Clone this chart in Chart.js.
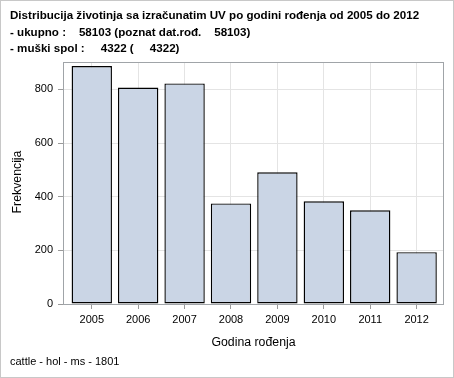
<!DOCTYPE html>
<html>
<head>
<meta charset="utf-8">
<script src="https://cdn.jsdelivr.net/npm/chart.js@4/dist/chart.umd.min.js"></script>
<style>
  html, body { margin: 0; padding: 0; background: #fff; }
  #wrap { width: 454px; height: 378px; position: relative; }
</style>
</head>
<body>
<div id="wrap"><canvas id="chart" width="454" height="378"></canvas></div>
<script>
const years = [2005, 2006, 2007, 2008, 2009, 2010, 2011, 2012];
const counts = [887, 807, 822, 375, 491, 383, 349, 193];
const yTicks = [0, 200, 400, 600, 800];

const titleLines = [
  "Distribucija životinja sa izračunatim UV po godini rođenja od 2005 do 2012",
  "- ukupno :    58103 (poznat dat.rođ.    58103)",
  "- muški spol :     4322 (     4322)",
];
const footnote = "cattle - hol - ms - 1801";
const xTitle = "Godina rođenja";
const yTitle = "Frekvencija";

const FONT = "'Liberation Sans', Arial, sans-serif";

const decor = {
  id: "decor",
  afterDraw(chart) {
    const ctx = chart.ctx;
    const a = chart.chartArea;
    ctx.save();
    // plot frame
    ctx.strokeStyle = "#a0a4a8";
    ctx.lineWidth = 1;
    ctx.strokeRect(Math.round(a.left) + 0.5, Math.round(a.top) + 0.5,
      Math.round(a.right - a.left) - 1, Math.round(a.bottom - a.top));
    // outer frame
    ctx.strokeStyle = "#c8c8c8";
    ctx.strokeRect(0.5, 0.5, chart.width - 1, chart.height - 1);

    ctx.fillStyle = "#000";
    ctx.textAlign = "left";
    ctx.textBaseline = "alphabetic";
    ctx.font = "bold 11.6px " + FONT;
    titleLines.forEach((t, i) => ctx.fillText(t, 10, 19 + i * 16.5));

    ctx.font = "11px " + FONT;
    ctx.fillText(footnote, 10, 365);

    ctx.font = "12.3px " + FONT;
    ctx.textAlign = "center";
    ctx.fillText(xTitle, (a.left + a.right) / 2, 346);
    ctx.translate(21, 182);
    ctx.rotate(-Math.PI / 2);
    ctx.fillText(yTitle, 0, 0);
    ctx.restore();
  },
};

new Chart(document.getElementById("chart"), {
  type: "bar",
  data: {
    datasets: [
      {
        data: years.map((y, i) => ({ x: y, y: counts[i] })),
        backgroundColor: "#cad5e5",
        borderColor: "#000",
        borderWidth: 1.4,
        borderSkipped: false,
        barPercentage: 0.87,
        categoryPercentage: 1,
      },
    ],
  },
  options: {
    responsive: false,
    animation: false,
    layout: { padding: { left: 0, top: 62, right: 10, bottom: 0 } },
    plugins: { legend: { display: false }, tooltip: { enabled: false } },
    scales: {
      x: {
        type: "linear",
        offset: false,
        min: 2004.38,
        max: 2012.59,
        afterBuildTicks: (s) => { s.ticks = years.map((v) => ({ value: v })); },
        afterFit: (s) => { s.height = 74; },
        grid: { offset: false, color: "#e4e4e4", tickColor: "#9a9a9a", tickLength: 5 },
        border: { display: false },
        ticks: {
          padding: 4,
          color: "#000",
          font: { family: FONT, size: 11 },
          callback: (v) => String(v),
        },
      },
      y: {
        min: 0,
        max: 902,
        afterBuildTicks: (s) => { s.ticks = yTicks.map((v) => ({ value: v })); },
        afterFit: (s) => { s.width = 63; },
        grid: { color: "#e4e4e4", tickColor: "#9a9a9a", tickLength: 5 },
        border: { display: false },
        ticks: {
          padding: 5,
          color: "#000",
          font: { family: FONT, size: 11 },
        },
      },
    },
  },
  plugins: [decor],
});
</script>
</body>
</html>
